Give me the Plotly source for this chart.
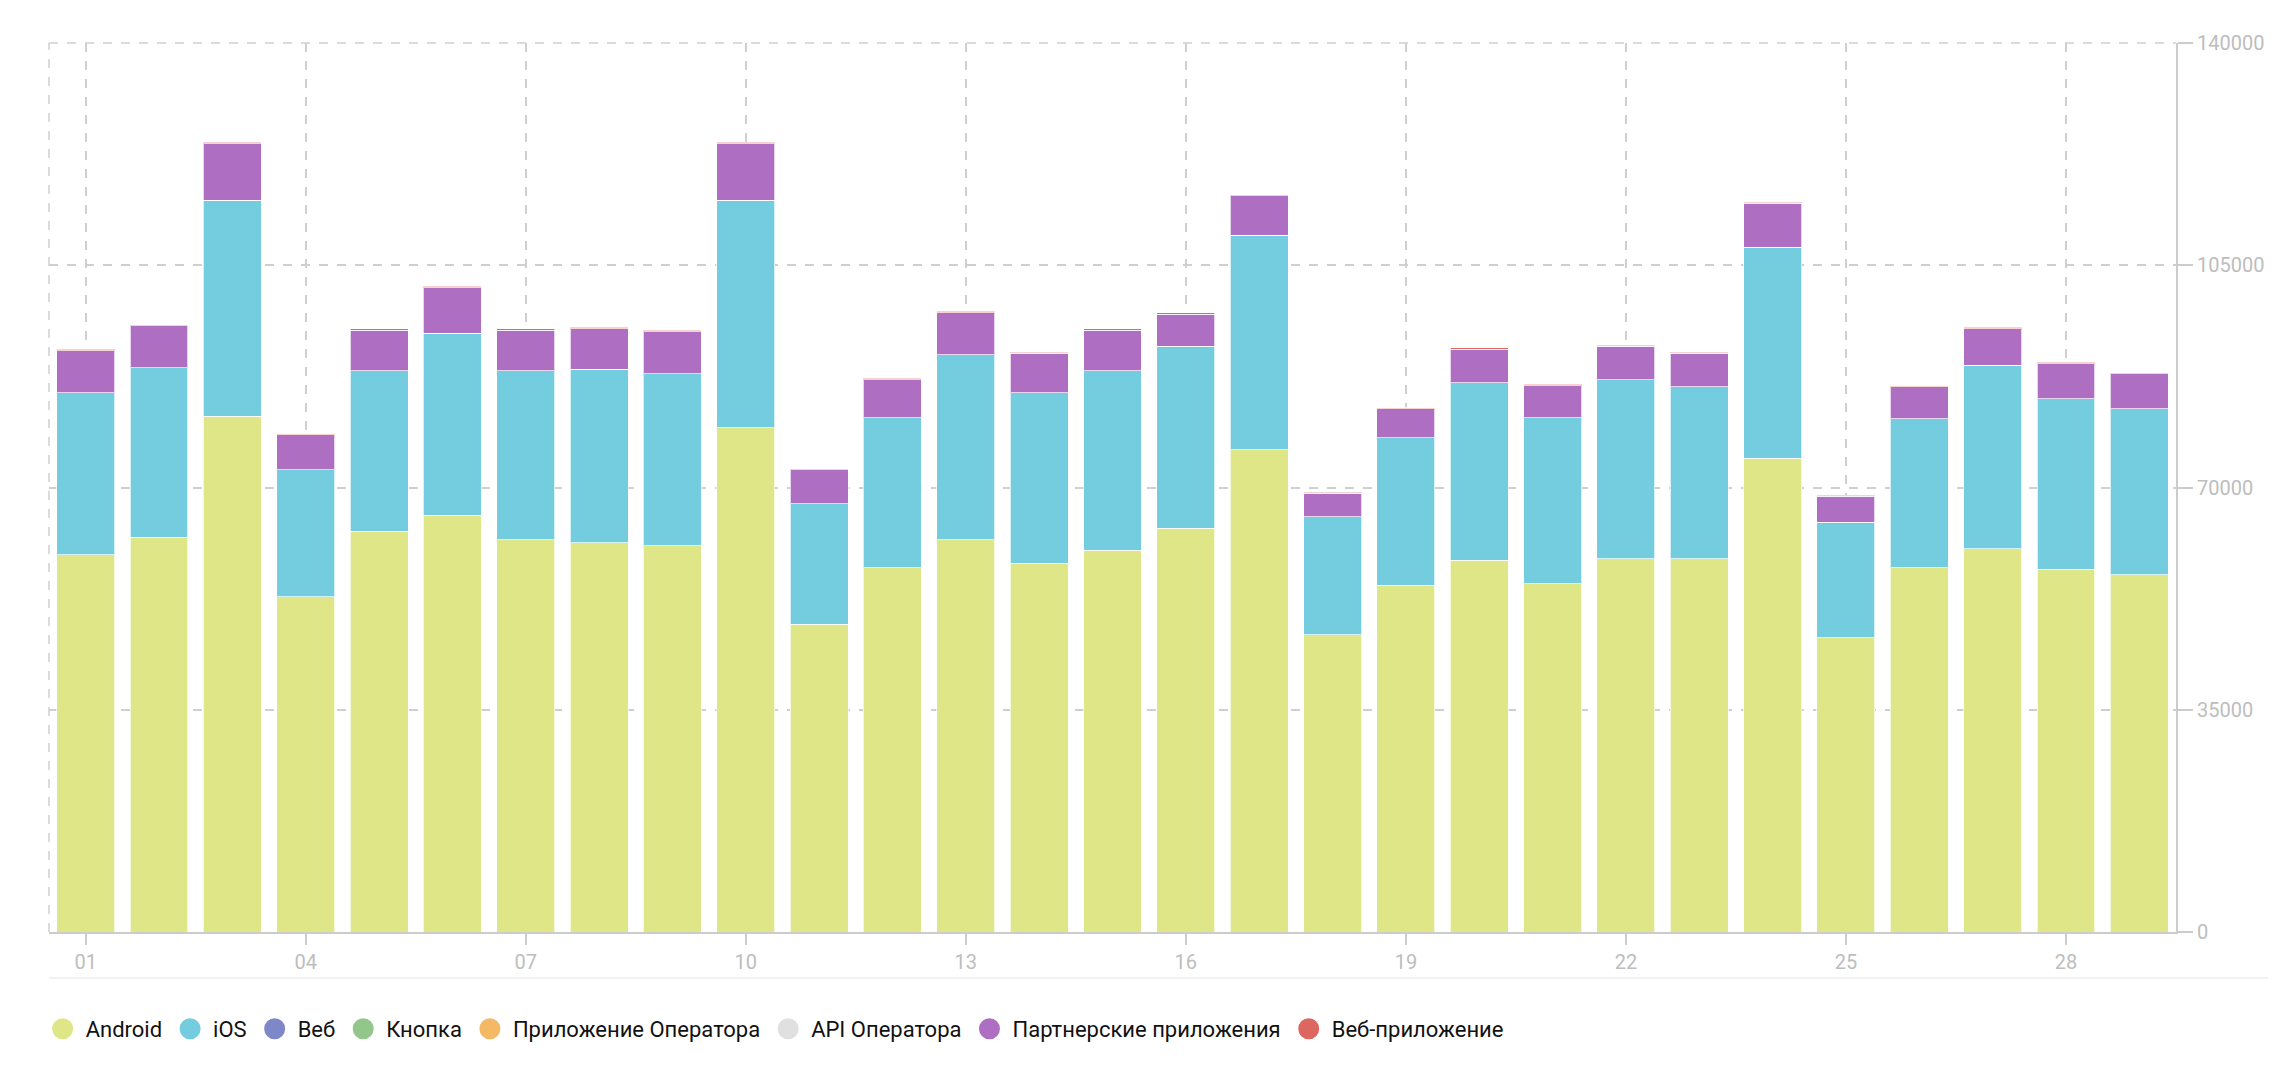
import plotly.graph_objects as go

days = [f"{d:02d}" for d in range(1, 30)]

android = [59440, 62200, 81240, 52790, 63110, 65640, 61740, 61280, 60820, 79410,
           48430, 57380, 61740, 58060, 60130, 63570, 75970, 46820, 54620, 58520,
           54850, 58750, 58750, 74590, 46360, 57380, 60360, 57150, 56230]
ios = [25480, 26620, 33970, 19970, 25250, 28690, 26620, 27310, 27080, 35800,
       19050, 23640, 29150, 26850, 28230, 28690, 33740, 18590, 23180, 28000,
       26160, 28230, 27080, 33280, 18130, 23410, 28920, 26850, 26160]
web = [0] * 29
button = [0] * 29
operator_app = [0] * 29
operator_api = [0] * 29
partner = [6650, 6650, 8950, 5510, 6430, 7110, 6430, 6430, 6650, 8950,
           5280, 5970, 6660, 6200, 6430, 5050, 6200, 3670, 4590, 5280,
           5050, 5280, 5280, 6890, 4130, 5050, 5740, 5510, 5510]
webapp = [200, 180, 220, 180, 180, 250, 180, 180, 180, 220,
          180, 180, 200, 180, 180, 180, 200, 180, 180, 180,
          180, 180, 180, 200, 180, 180, 180, 180, 180]

series = [
    ("Android", android, "#dfe687"),
    ("iOS", ios, "#74ccdf"),
    ("Веб", web, "#7e88c8"),
    ("Кнопка", button, "#93c68a"),
    ("Приложение Оператора", operator_app, "#f3b965"),
    ("API Оператора", operator_api, "#e0e0e0"),
    ("Партнерские приложения", partner, "#ae6ec2"),
    ("Веб-приложение", webapp, "#dc6660"),
]

y_ticks = [0, 35000, 70000, 105000, 140000]
x_ticks = days[::3]

fig = go.Figure()
for name, vals, color in series:
    fig.add_trace(go.Bar(
        x=days, y=vals, name=name, legendgroup=name, showlegend=False,
        marker=dict(color=color, line=dict(color="rgba(255,255,255,0.7)", width=1)),
    ))
for name, vals, color in series:
    fig.add_trace(go.Scatter(
        x=[None], y=[None], mode="markers", name=name, legendgroup=name,
        marker=dict(color=color, size=16, symbol="circle",
                    line=dict(color=color, width=5)),
    ))

fig.update_layout(
    barmode="stack",
    bargap=0.21,
    width=2268, height=1074,
    margin=dict(l=41, r=100, t=35, b=150),
    paper_bgcolor="white",
    plot_bgcolor="white",
    font=dict(family="Roboto", color="#222"),
    showlegend=True,
    legend=dict(orientation="h", x=-0.0044, xanchor="left", y=-0.109, yanchor="middle",
                font=dict(size=22, color="#111"), itemsizing="trace",
                tracegroupgap=0, itemwidth=36),
    xaxis=dict(
        type="category", tickmode="array", tickvals=x_ticks, ticktext=x_ticks,
        showgrid=True, gridcolor="#cfcfcf", griddash="dash", gridwidth=1.5,
        showline=True, linecolor="#cccccc", linewidth=2,
        ticks="outside", ticklen=11, tickcolor="#cccccc", tickwidth=1.5,
        tickfont=dict(size=20, color="#bdbdbd"),
        range=[-0.5, 28.5],
    ),
    yaxis=dict(
        side="right", range=[0, 140000], tickmode="array", tickvals=y_ticks,
        ticktext=[str(v) for v in y_ticks],
        showgrid=True, gridcolor="#cfcfcf", griddash="dash", gridwidth=1.5,
        showline=True, linecolor="#cccccc", linewidth=2,
        ticks="outside", ticklen=15, tickcolor="#cccccc", tickwidth=1.5,
        tickfont=dict(size=20, color="#bdbdbd"),
        zeroline=False,
    ),
    shapes=[
        dict(type="line", xref="paper", yref="paper", x0=0, x1=0, y0=0, y1=1,
             line=dict(color="#cfcfcf", width=1.5, dash="dash")),
        dict(type="line", xref="paper", yref="paper", x0=0, x1=1.0, y0=1, y1=1,
             line=dict(color="#cfcfcf", width=1.5, dash="dash")),
        dict(type="line", xref="paper", yref="paper", x0=0, x1=1.06, y0=-0.0517, y1=-0.0517,
             line=dict(color="#eeeeee", width=1.5)),
    ],
)

fig.write_html("out.html")
